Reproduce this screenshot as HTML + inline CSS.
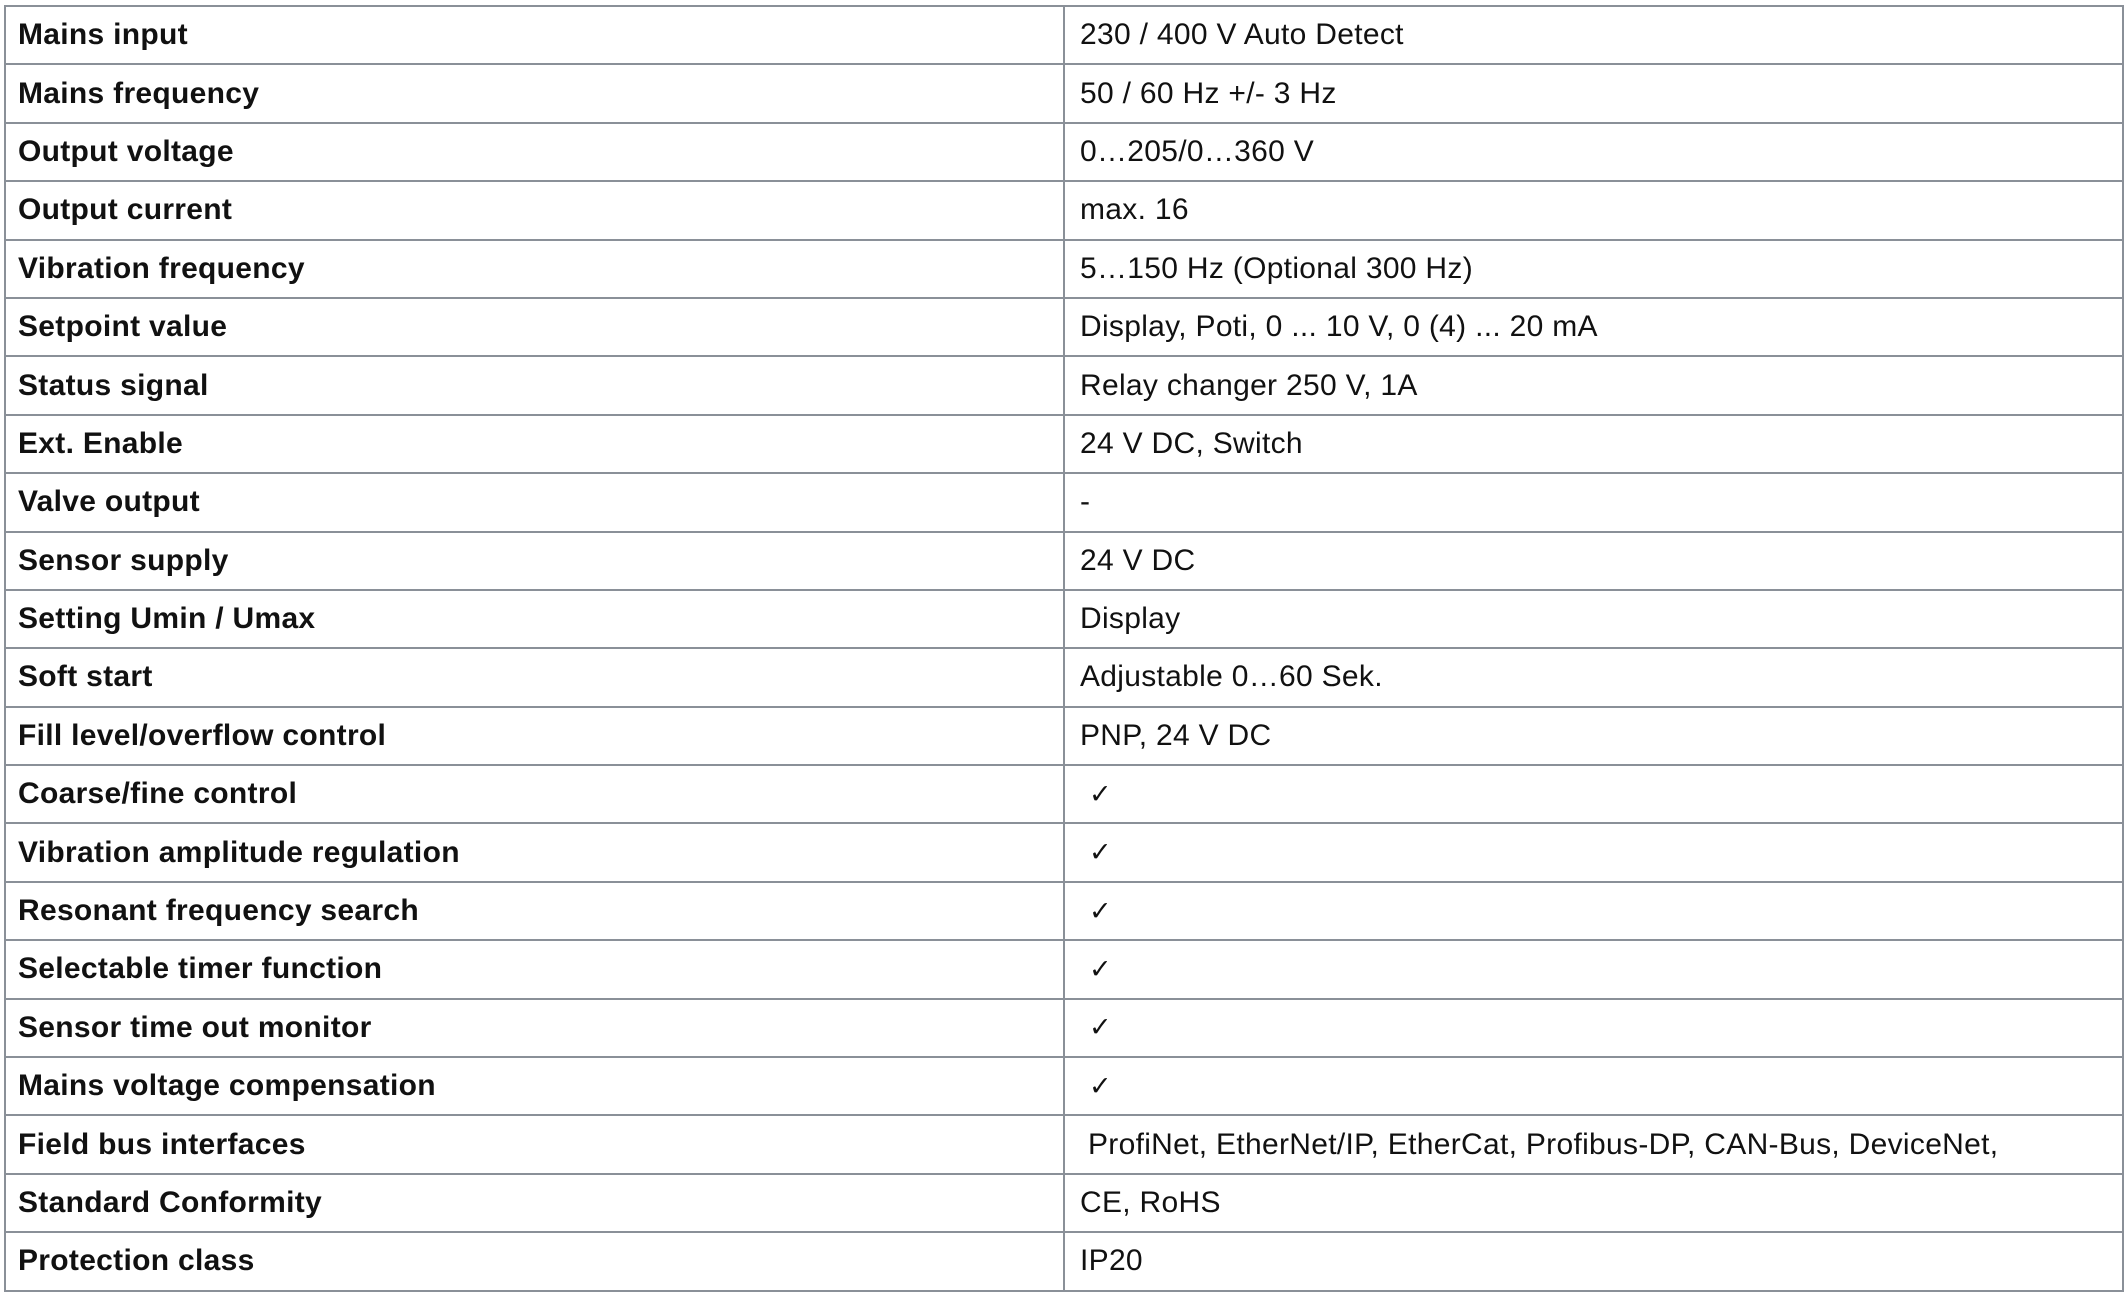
<!DOCTYPE html>
<html><head><meta charset="utf-8"><style>
html,body{margin:0;padding:0;background:#fff;width:2127px;height:1315px;overflow:hidden}
table{position:absolute;left:4px;top:5px;border-collapse:collapse;width:2120px;table-layout:fixed}
td{border:2px solid #8a9098;height:56.4px;padding:0 0 0 15px;font-family:"Liberation Sans","DejaVu Sans",sans-serif;font-size:30px;color:#111;white-space:nowrap;overflow:hidden;vertical-align:middle}
td.l{width:1045px;font-weight:bold;letter-spacing:0.3px;padding-left:12px}
td.v{letter-spacing:0.3px}
.ck{padding-left:24px;font-family:"DejaVu Sans",sans-serif;font-size:27px}
</style></head><body>
<table>
<tr><td class="l">Mains input</td><td class="v">230 / 400 V Auto Detect</td></tr>
<tr><td class="l">Mains frequency</td><td class="v">50 / 60 Hz +/- 3 Hz</td></tr>
<tr><td class="l">Output voltage</td><td class="v">0…205/0…360 V</td></tr>
<tr><td class="l">Output current</td><td class="v">max. 16</td></tr>
<tr><td class="l">Vibration frequency</td><td class="v">5…150 Hz (Optional 300 Hz)</td></tr>
<tr><td class="l">Setpoint value</td><td class="v">Display, Poti, 0 ... 10 V, 0 (4) ... 20 mA</td></tr>
<tr><td class="l">Status signal</td><td class="v">Relay changer 250 V, 1A</td></tr>
<tr><td class="l">Ext. Enable</td><td class="v">24 V DC, Switch</td></tr>
<tr><td class="l">Valve output</td><td class="v">-</td></tr>
<tr><td class="l">Sensor supply</td><td class="v">24 V DC</td></tr>
<tr><td class="l">Setting Umin / Umax</td><td class="v">Display</td></tr>
<tr><td class="l">Soft start</td><td class="v">Adjustable 0…60 Sek.</td></tr>
<tr><td class="l">Fill level/overflow control</td><td class="v">PNP, 24 V DC</td></tr>
<tr><td class="l">Coarse/fine control</td><td class="v ck">✓</td></tr>
<tr><td class="l">Vibration amplitude regulation</td><td class="v ck">✓</td></tr>
<tr><td class="l">Resonant frequency search</td><td class="v ck">✓</td></tr>
<tr><td class="l">Selectable timer function</td><td class="v ck">✓</td></tr>
<tr><td class="l">Sensor time out monitor</td><td class="v ck">✓</td></tr>
<tr><td class="l">Mains voltage compensation</td><td class="v ck">✓</td></tr>
<tr><td class="l">Field bus interfaces</td><td class="v" style="padding-left:23px">ProfiNet, EtherNet/IP, EtherCat, Profibus-DP, CAN-Bus, DeviceNet,</td></tr>
<tr><td class="l">Standard Conformity</td><td class="v">CE, RoHS</td></tr>
<tr><td class="l">Protection class</td><td class="v">IP20</td></tr>
</table>
</body></html>
